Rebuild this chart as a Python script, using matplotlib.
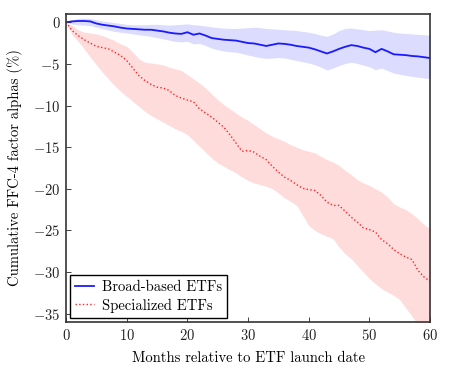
import matplotlib
matplotlib.use("Agg")
import matplotlib.pyplot as plt
import numpy as np

plt.rcParams['font.family'] = 'serif'
plt.rcParams['font.serif'] = ['cmr10', 'DejaVu Serif']
plt.rcParams['mathtext.fontset'] = 'cm'
plt.rcParams['axes.formatter.use_mathtext'] = True

months = np.arange(0, 61)

# broad-based ETFs: mean and band
broad = [0, 0.1, 0.15, 0.15, 0.1, -0.15, -0.3, -0.4, -0.5, -0.65,
         -0.75, -0.8, -0.85, -0.9, -0.9, -1.0, -1.1, -1.25, -1.35, -1.4,
         -1.2, -1.5, -1.35, -1.6, -1.9, -2.0, -2.1, -2.15, -2.2, -2.35,
         -2.5, -2.55, -2.7, -2.85, -2.7, -2.55, -2.6, -2.7, -2.85, -2.95,
         -3.05, -3.25, -3.5, -3.75, -3.5, -3.2, -2.95, -2.75, -2.85, -3.05,
         -3.2, -3.6, -3.2, -3.5, -3.85, -3.9, -3.95, -4.05, -4.1, -4.2, -4.3]
broad_hi = [0, 0.3, 0.45, 0.5, 0.45, 0.3, 0.15, 0.05, -0.05, -0.15,
            -0.25, -0.3, -0.3, -0.3, -0.25, -0.25, -0.3, -0.35, -0.3, -0.25,
            -0.2, -0.3, -0.35, -0.45, -0.55, -0.65, -0.7, -0.75, -0.75, -0.7,
            -0.65, -0.6, -0.65, -0.75, -0.8, -0.85, -0.9, -0.95, -1.0, -1.1,
            -1.2, -1.35, -1.55, -1.7, -1.4, -1.0, -0.75, -0.7, -0.8, -0.9,
            -1.0, -0.95, -0.9, -1.05, -1.2, -1.3, -1.35, -1.4, -1.45, -1.5, -1.55]
broad_lo = [0, -0.2, -0.3, -0.35, -0.4, -0.6, -0.8, -0.95, -1.1, -1.2,
            -1.3, -1.4, -1.5, -1.6, -1.7, -1.85, -2.0, -2.15, -2.3, -2.35,
            -2.3, -2.6, -2.55, -2.8, -3.1, -3.3, -3.45, -3.55, -3.6, -3.75,
            -3.95, -4.1, -4.25, -4.35, -4.3, -4.25, -4.3, -4.45, -4.6, -4.75,
            -4.9, -5.1, -5.4, -5.75, -5.5, -5.2, -4.95, -4.8, -4.95, -5.15,
            -5.35, -5.7, -5.5, -5.8, -6.1, -6.25, -6.4, -6.5, -6.6, -6.7, -6.75]

# specialized ETFs: mean and band
spec = [0, -1.0, -1.6, -2.1, -2.5, -2.9, -3.05, -3.2, -3.6, -4.0,
        -4.6, -5.5, -6.4, -7.0, -7.45, -7.8, -7.9, -8.2, -8.8, -9.1,
        -9.35, -9.55, -10.4, -10.9, -11.4, -12.0, -12.6, -13.5, -14.5, -15.5,
        -15.4, -15.6, -16.1, -16.5, -17.3, -18.0, -18.6, -19.0, -19.5, -19.95,
        -20.1, -20.2, -20.8, -21.6, -22.0, -22.0, -22.7, -23.4, -24.0, -24.7,
        -24.9, -25.2, -26.1, -26.6, -27.3, -27.8, -28.2, -28.5, -29.8, -30.6, -31.1]
spec_hi = [0, -0.4, -0.9, -1.2, -1.3, -1.4, -1.6, -1.9, -2.2, -2.6,
           -2.9, -3.6, -4.4, -4.8, -4.9, -5.0, -5.1, -5.4, -5.6, -5.8,
           -6.3, -6.8, -7.3, -7.9, -8.6, -9.3, -9.9, -10.4, -10.9, -11.4,
           -11.8, -12.3, -12.8, -13.3, -13.7, -14.0, -14.3, -14.7, -15.0, -15.3,
           -15.5, -15.7, -16.1, -16.5, -16.8, -17.2, -17.8, -18.3, -18.9, -19.3,
           -19.6, -20.0, -20.4, -21.0, -21.8, -22.2, -22.5, -23.0, -23.6, -24.3, -24.8]
spec_lo = [0, -1.5, -2.3, -3.2, -4.2, -5.1, -6.0, -6.8, -7.6, -8.3,
           -8.9, -9.5, -10.1, -10.7, -11.2, -11.6, -12.0, -12.4, -12.8, -13.1,
           -13.5, -14.2, -14.9, -15.6, -16.3, -16.9, -17.3, -17.7, -18.1, -18.6,
           -19.0, -19.3, -19.5, -19.7, -20.0, -20.5, -21.1, -21.5, -22.0, -23.2,
           -24.4, -25.0, -25.4, -25.7, -26.0, -27.0, -27.8, -28.4, -29.2, -30.0,
           -30.8, -31.4, -32.0, -32.4, -32.8, -33.3, -34.3, -35.3, -36.3, -37.3, -38.0]

fig = plt.figure(figsize=(4.6, 3.76), dpi=100)
ax = fig.add_axes([0.1435, 0.1436, 0.7915, 0.8194])

ax.fill_between(months, broad_lo, broad_hi, color='#dcdcff', lw=0)
ax.fill_between(months, spec_lo, spec_hi, color='#ffdcdc', lw=0)
ax.plot(months, broad, color='#1a1aff', lw=1.3, label='Broad-based ETFs')
ax.plot(months, spec, color='#ff2020', lw=1.0, ls=':', label='Specialized ETFs')

ax.set_xlim(0, 60)
ax.set_ylim(-36, 1)
ax.set_xticks([0, 10, 20, 30, 40, 50, 60])
ax.set_yticks([0, -5, -10, -15, -20, -25, -30, -35])
ax.tick_params(direction='in', length=3.5, width=0.6, labelsize=10.5,
               colors='#222222', pad=4)
for s in ax.spines.values():
    s.set_linewidth(1.2)
    s.set_color('#333333')

ax.set_xlabel('Months relative to ETF launch date', fontsize=10.5, labelpad=6)
ax.set_ylabel('Cumulative FFC-4 factor alphas (%)', fontsize=10.5, labelpad=7)

leg = ax.legend(loc='lower left', fontsize=10.5, fancybox=False, framealpha=1,
                edgecolor='black', borderaxespad=0.3, handlelength=1.3,
                borderpad=0.35, labelspacing=0.3, handletextpad=0.5)
leg.get_frame().set_linewidth(1.0)

fig.savefig('out.png', dpi=100)
